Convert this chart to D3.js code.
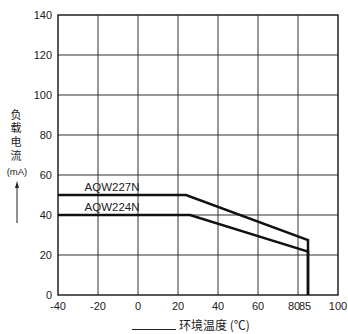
<!DOCTYPE html>
<html><head><meta charset="utf-8">
<script src="https://cdn.jsdelivr.net/npm/d3@7"></script>
<style>body{margin:0;background:#fff;}svg{display:block;}</style>
</head><body><svg id="c" width="348" height="334"></svg>
<script>
const xTicks = [-40, -20, 0, 20, 40, 60, 80, 85, 100];
const yTicks = [0, 20, 40, 60, 80, 100, 120, 140];
const xGrid = [-20, 0, 20, 40, 60, 80];
const yGrid = [20, 40, 60, 80, 100, 120];
const seriesNames = ["AQW227N", "AQW224N"];
const temp227 = [-40, 24, 85, 85];
const curr227 = [50, 50, 27.5, 0];
const temp224 = [-40, 26, 85, 85];
const curr224 = [40, 40, 21.7, 0];
const yLabel = "负载电流";
const yUnit = "(mA)";
const xLabel = "环境温度 (℃)";

const svg = d3.select("#c");
const L = 58, T = 15, W = 280, H = 280;
const x = d3.scaleLinear().domain([-40, 100]).range([L, L + W]);
const y = d3.scaleLinear().domain([0, 140]).range([T + H, T]);
const latin = "'Liberation Sans', Arial, sans-serif";
const cjk = "'Noto Sans CJK SC', sans-serif";

// grid
svg.append("g").selectAll("line").data(xGrid).join("line")
  .attr("x1", d => x(d)).attr("x2", d => x(d)).attr("y1", T).attr("y2", T + H)
  .attr("stroke", "#333").attr("stroke-width", 1);
svg.append("g").selectAll("line").data(yGrid).join("line")
  .attr("x1", L).attr("x2", L + W).attr("y1", d => y(d)).attr("y2", d => y(d))
  .attr("stroke", "#333").attr("stroke-width", 1);

// frame
svg.append("rect").attr("x", L).attr("y", T).attr("width", W).attr("height", H)
  .attr("fill", "none").attr("stroke", "#222").attr("stroke-width", 1.5);

// tick labels
const xOff = {80: -4, 85: -3};
svg.append("g").selectAll("text").data(xTicks).join("text")
  .attr("x", d => x(d) + (xOff[d] || 0)).attr("y", T + H + 15)
  .attr("text-anchor", "middle").attr("font-family", latin).attr("font-size", 11)
  .attr("fill", "#222").text(d => d);
svg.append("g").selectAll("text").data(yTicks).join("text")
  .attr("x", L - 6).attr("y", d => y(d)).attr("dy", "0.35em")
  .attr("text-anchor", "end").attr("font-family", latin).attr("font-size", 11)
  .attr("fill", "#222").text(d => d);

// curves
const line = d3.line().x(d => x(d[0])).y(d => y(d[1]));
const series = [d3.zip(temp227, curr227), d3.zip(temp224, curr224)];
svg.append("g").selectAll("path").data(series).join("path")
  .attr("d", line).attr("fill", "none").attr("stroke", "#111")
  .attr("stroke-width", 2.5).attr("stroke-linejoin", "miter");

// series labels
svg.append("g").selectAll("text").data(seriesNames).join("text")
  .attr("x", x(-13)).attr("y", (d, i) => y(i === 0 ? 50 : 40) - 4.5)
  .attr("text-anchor", "middle").attr("font-family", latin).attr("font-size", 11.5)
  .attr("fill", "#222").text(d => d);

// y axis title (vertical)
svg.append("text").attr("x", 16).attr("y", 109)
  .attr("writing-mode", "vertical-rl").style("writing-mode", "vertical-rl")
  .attr("letter-spacing", 2.8)
  .attr("font-family", cjk).attr("font-size", 11)
  .attr("fill", "#222").text(yLabel);
svg.append("text").attr("x", 17).attr("y", 175).attr("text-anchor", "middle")
  .attr("font-family", latin).attr("font-size", 9.5).attr("fill", "#222").text(yUnit);
svg.append("line").attr("x1", 17).attr("x2", 17).attr("y1", 223).attr("y2", 186)
  .attr("stroke", "#222").attr("stroke-width", 1);
svg.append("path").attr("d", "M17,181 L15,188 L19,188 Z").attr("fill", "#222");

// x axis title
svg.append("line").attr("x1", 132).attr("x2", 176).attr("y1", 329.5).attr("y2", 329.5)
  .attr("stroke", "#222").attr("stroke-width", 1);
svg.append("text").attr("x", 179).attr("y", 330).attr("font-family", cjk)
  .attr("font-size", 12).attr("fill", "#222").text(xLabel);
</script></body></html>
